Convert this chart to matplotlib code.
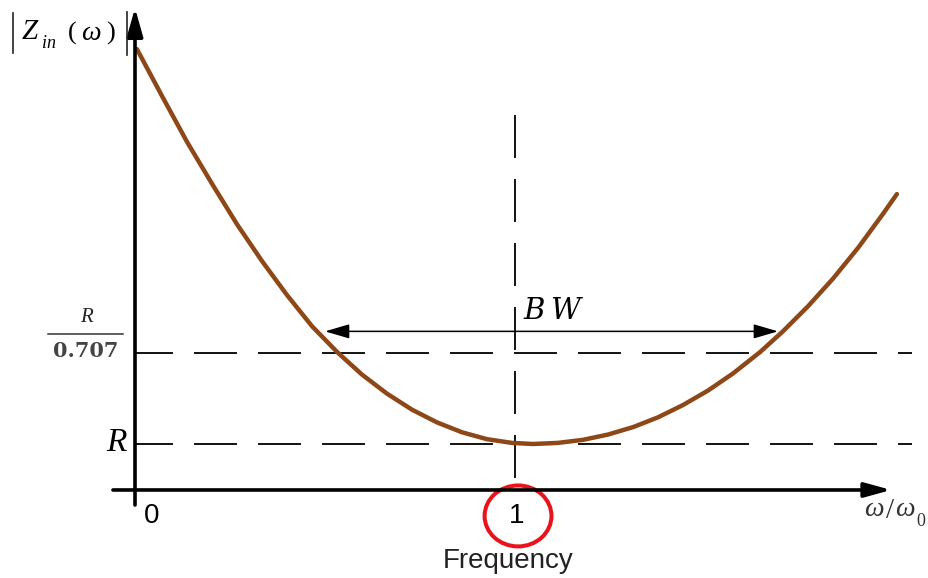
import matplotlib
matplotlib.use("Agg")
import matplotlib.pyplot as plt
from matplotlib.patches import Ellipse

plt.rcParams["lines.scale_dashes"] = False

# Normalised frequency (w / w0) and input impedance magnitude in units of R
freq = [0.005, 0.071, 0.137, 0.203, 0.268, 0.334, 0.400, 0.466, 0.532,
        0.597, 0.663, 0.729, 0.795, 0.861, 0.926, 0.992, 1.047, 1.113,
        1.179, 1.245, 1.311, 1.376, 1.442, 1.508, 1.574, 1.645, 1.705,
        1.771, 1.837, 1.903, 1.968, 2.005]
z_in = [2.795, 2.582, 2.373, 2.182, 2.000, 1.832, 1.677, 1.535, 1.418,
        1.316, 1.229, 1.156, 1.098, 1.053, 1.022, 1.005, 1.000, 1.005,
        1.019, 1.043, 1.077, 1.121, 1.177, 1.243, 1.321, 1.418, 1.512,
        1.626, 1.752, 1.892, 2.045, 2.136]

R = 1.0
half_power = R / 0.707
bw_edges = [0.50, 1.692]
bw_level = 1.512
x_ticks = [0, 1]
x_tick_labels = ["0", "1"]
axis_base = 0.791

W, H = 929, 578
fig = plt.figure(figsize=(W / 100, H / 100), dpi=100)
ax = fig.add_axes([0, 0, 1, 1])
ax.set_xlim(-0.35526, 2.08947)
ax.set_ylim(0.3909, 3.0182)
ax.axis("off")


def at(px, py):
    return px / W, 1 - py / H


def pt(px):
    return px * 72 / 100


serif = "Liberation Serif"
sans = "Liberation Sans"

# axes with arrow heads
ax.annotate("", xy=(0, 2.982), xytext=(0, 0.7227),
            arrowprops=dict(arrowstyle="-|>,head_length=0.85,head_width=0.24",
                            mutation_scale=20, lw=2.6, color="black",
                            shrinkA=0, shrinkB=0))
ax.annotate("", xy=(1.99, axis_base), xytext=(-0.058, axis_base),
            arrowprops=dict(arrowstyle="-|>,head_length=0.8,head_width=0.22",
                            mutation_scale=20, lw=2.6, color="black",
                            shrinkA=0, shrinkB=0))

# reference levels
dash = (pt(43), pt(21))
ax.plot([0, 2.045], [R, R], color="black", lw=1.3, linestyle=(pt(5), dash))
ax.plot([0, 2.045], [half_power, half_power], color="black", lw=1.3,
        linestyle=(pt(5), dash))
ax.plot([1, 1], [2.495, axis_base], color="black", lw=1.3,
        linestyle=(0, dash))

# impedance curve
ax.plot(freq, z_in, color="#8E4818", lw=3.2, solid_capstyle="round",
        solid_joinstyle="round")

# bandwidth arrow
ax.annotate("", xy=(bw_edges[0], bw_level), xytext=(bw_edges[1], bw_level),
            arrowprops=dict(arrowstyle="<|-|>,head_length=0.75,head_width=0.22",
                            mutation_scale=20, lw=1.1, color="black",
                            shrinkA=0, shrinkB=0))
fig.text(*at(534, 311), "B", family="DejaVu Serif", style="italic",
         fontsize=21, ha="center", va="center")
fig.text(*at(565, 311), "W", family="DejaVu Serif", style="italic",
         fontsize=21, ha="center", va="center")

# tick labels
for xv, lab in zip(x_ticks, x_tick_labels):
    dx = 17 if xv == 0 else 2
    ax.annotate(lab, xy=(xv, axis_base), xytext=(pt(dx), -pt(26)),
                textcoords="offset points", ha="center", va="center",
                family=sans, fontsize=20)
fig.text(*at(508, 561), "Frequency", family=sans, fontsize=20,
         ha="center", va="center", color="#222222")

# highlighted tick
ax.add_patch(Ellipse((1.008, 0.673), 0.176, 0.277, fill=False,
                     edgecolor="#E8141B", lw=2.9))

# y level labels
fig.text(*at(127, 443), "R", family=serif, style="italic", fontsize=24,
         ha="right", va="center")
fig.text(*at(86, 318), "R", family=serif, style="italic", fontsize=15,
         ha="center", va="center", color="#222222")
fig.add_artist(plt.Line2D([48 / W, 123 / W], [1 - 334 / H, 1 - 334 / H],
                          color="#333333", lw=1.1))
fig.text(*at(86, 351), "0.707", family="DejaVu Serif", fontsize=15,
         weight="bold", ha="center", va="center", color="#444444")

# y axis title |Z_in(w)|
for bx, y0, y1 in [(13, 13, 53), (127, 12, 55)]:
    fig.add_artist(plt.Line2D([bx / W, bx / W], [1 - y0 / H, 1 - y1 / H],
                              color="#222222", lw=1.2))
fig.text(*at(30, 32), "Z", family=serif, style="italic", fontsize=21,
         ha="center", va="center")
fig.text(*at(49, 43), "in", family=serif, style="italic", fontsize=13,
         ha="center", va="center")
fig.text(*at(72, 33), "(", family=serif, fontsize=19, ha="center", va="center")
fig.text(*at(91, 33), "\u03c9", family=serif, style="italic", fontsize=20,
         ha="center", va="center")
fig.text(*at(111, 33), ")", family=serif, fontsize=19, ha="center", va="center")

# x axis title w/w0
fig.text(*at(874, 510), "\u03c9", family=serif, style="italic", fontsize=20,
         ha="center", va="center", color="#333333")
fig.text(*at(890, 511), "/", family=serif, fontsize=21,
         ha="center", va="center", color="#333333")
fig.text(*at(905, 510), "\u03c9", family=serif, style="italic", fontsize=20,
         ha="center", va="center", color="#333333")
fig.text(*at(921, 521), "0", family=serif, fontsize=13,
         ha="center", va="center", color="#333333")

fig.savefig("out.png", dpi=100)
